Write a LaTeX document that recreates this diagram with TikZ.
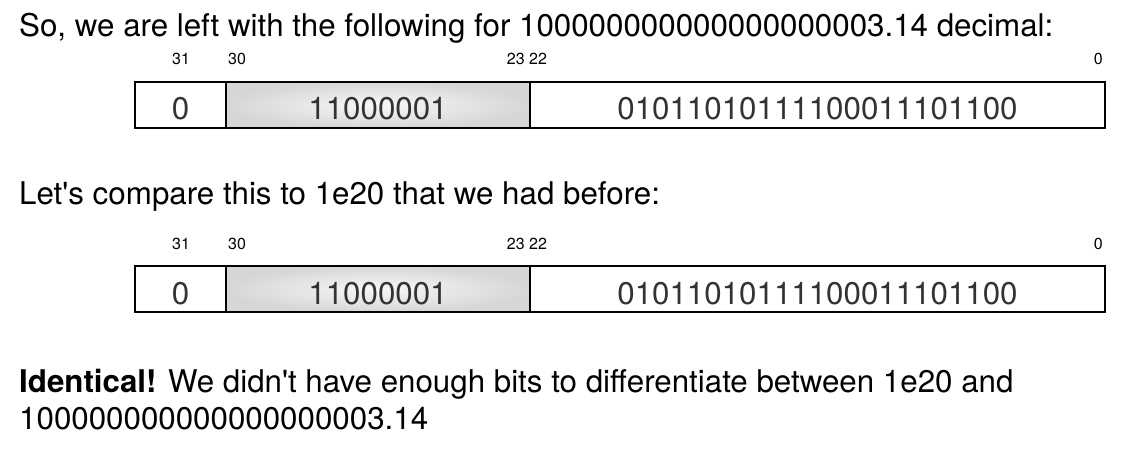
\documentclass[tikz,border=0pt]{standalone}
\usepackage{fontspec}
\setmainfont{TeX Gyre Heros}
\definecolor{bittext}{HTML}{333333}
\tikzset{
  field/.style={draw=black, line width=1.3pt, minimum height=46pt, inner sep=0pt,
    text height=30pt, text depth=0pt, text=bittext, font=\fontsize{31.3}{36}\selectfont},
  expfield/.style={field, inner color=gray!6, outer color=gray!32},
  bitno/.style={inner sep=0pt, font=\fontsize{16}{19}\selectfont},
  textline/.style={anchor=base west, inner sep=0pt, font=\fontsize{31.3}{37}\selectfont}
}
\begin{document}
\begin{tikzpicture}[x=1pt, y=-1pt]
    \useasboundingbox (0,0) rectangle (1127,465);

    % 第一行说明文字
    \node[textline] (intro) at (19,37) {So, we are left with the following for 100000000000000000003.14 decimal:};

    % 两个浮点数格子 (符号, 指数, 尾数)
    \foreach \r/\y in {a/105, b/289} {
        \node[field, minimum width=91pt] (sign\r) at (180.5,\y) {0}; % 符号位
        \node[expfield, minimum width=304pt] (exp\r) at (378,\y) {11000001}; % 指数
        \node[field, minimum width=575pt] (mant\r) at (817.5,\y) {01011010111100011101100}; % 尾数

        % 位编号
        \node[bitno, anchor=base] (bit31\r) at (181,\y-40) {31};
        \node[bitno, anchor=base west] (bit30\r) at (228,\y-40) {30};
        \node[bitno, anchor=base] (bit23\r) at (527,\y-40) {23 22};
        \node[bitno, anchor=base east] (bit0\r) at (1103,\y-40) {0};
    }

    % 中间的文字
    \node[textline] (compare) at (19,205) {Let\textquotesingle s compare this to 1e20 that we had before:};

    % 结论
    \node[textline] (verdict) at (19,392) {\textbf{Identical!} We didn\textquotesingle t have enough bits to differentiate between 1e20 and};
    \node[textline] (verdict2) at (19,429) {100000000000000000003.14};

\end{tikzpicture}
\end{document}
